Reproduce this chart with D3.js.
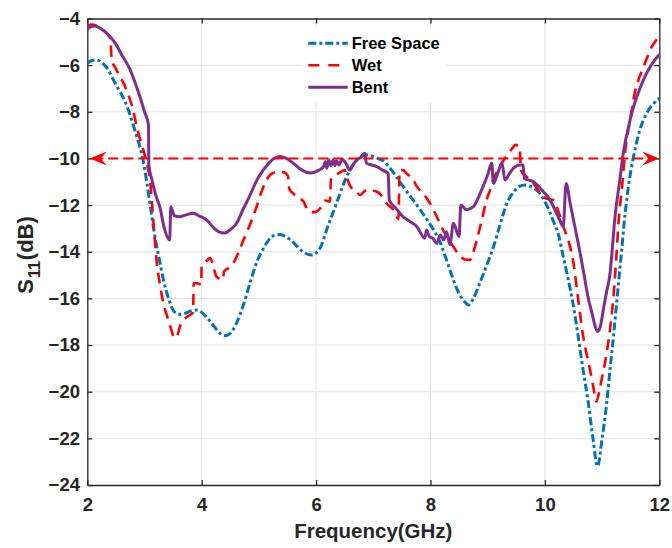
<!DOCTYPE html>
<html>
<head>
<meta charset="utf-8">
<script src="https://cdn.jsdelivr.net/npm/d3@7"></script>
<style>
  body { margin: 0; background: #fff; }
  svg { display: block; }
  text { font-family: "Liberation Sans", Arial, sans-serif; font-weight: bold; }
</style>
</head>
<body>
<div id="chart"></div>
<script>
// values: [frequency GHz, S11 dB]
var freeSpace = [[2.0,-5.92],[2.08,-5.8],[2.16,-5.78],[2.25,-5.88],[2.35,-6.15],[2.45,-6.6],[2.55,-7.05],[2.65,-7.5],
  [2.75,-8.15],[2.85,-8.95],[2.95,-9.8],[3.04,-11.0],[3.11,-12.2],[3.2,-13.6],[3.27,-14.45],[3.33,-15.2],[3.42,-16.0],
  [3.5,-16.5],[3.6,-16.68],[3.7,-16.65],[3.8,-16.55],[3.91,-16.5],[4.0,-16.6],[4.1,-16.85],[4.2,-17.15],[4.3,-17.45],
  [4.4,-17.6],[4.5,-17.5],[4.6,-17.1],[4.72,-16.35],[4.85,-15.3],[4.97,-14.4],[5.07,-13.9],[5.17,-13.5],[5.27,-13.3],
  [5.37,-13.26],[5.47,-13.35],[5.6,-13.6],[5.77,-14.0],[5.92,-14.14],[6.0,-14.05],[6.07,-13.84],[6.2,-12.95],[6.36,-11.9],
  [6.48,-11.1],[6.59,-10.5],[6.7,-10.1],[6.8,-9.9],[6.88,-9.85],[6.98,-9.9],[7.08,-10.0],[7.17,-10.1],[7.35,-10.6],
  [7.52,-11.2],[7.67,-11.7],[7.82,-12.2],[8.0,-12.85],[8.17,-13.6],[8.3,-14.5],[8.4,-15.2],[8.5,-15.8],[8.6,-16.15],
  [8.66,-16.28],[8.75,-16.0],[8.86,-15.35],[8.98,-14.6],[9.1,-13.8],[9.22,-12.8],[9.33,-11.95],[9.45,-11.45],[9.55,-11.2],
  [9.65,-11.14],[9.75,-11.2],[9.91,-11.5],[10.03,-12.0],[10.14,-12.64],[10.24,-13.3],[10.32,-14.2],[10.4,-15.1],
  [10.49,-16.2],[10.58,-17.6],[10.67,-19.1],[10.76,-20.5],[10.84,-22.0],[10.92,-23.2],[11.0,-22.0],[11.08,-20.5],
  [11.14,-19.0],[11.2,-17.6],[11.25,-16.3],[11.3,-15.0],[11.34,-14.0],[11.38,-12.9],[11.46,-11.2],[11.55,-9.92],
  [11.66,-8.78],[11.78,-8.06],[11.9,-7.65],[12.0,-7.42]];

var wet = [[2.0,-4.32],[2.08,-4.26],[2.15,-4.3],[2.25,-4.45],[2.33,-4.6],[2.4,-4.85],[2.43,-5.8],[2.5,-6.15],[2.57,-6.5],
  [2.63,-6.75],[2.69,-7.1],[2.75,-7.5],[2.8,-7.92],[2.86,-8.6],[2.92,-9.15],[2.98,-9.64],[3.05,-10.3],[3.1,-11.0],
  [3.14,-12.2],[3.21,-14.35],[3.27,-15.4],[3.33,-16.2],[3.4,-16.8],[3.45,-17.2],[3.53,-17.7],[3.58,-17.55],[3.62,-17.2],
  [3.68,-16.95],[3.74,-16.8],[3.8,-16.7],[3.85,-16.6],[3.86,-15.35],[3.92,-15.35],[3.99,-15.4],[4.0,-14.6],[4.08,-14.4],
  [4.15,-14.27],[4.2,-14.6],[4.26,-15.07],[4.37,-15.2],[4.39,-14.85],[4.47,-14.7],[4.55,-14.5],[4.64,-14.05],[4.73,-13.5],
  [4.85,-12.8],[4.96,-12.07],[5.05,-11.4],[5.14,-10.9],[5.2,-10.7],[5.28,-10.6],[5.37,-10.57],[5.45,-10.6],[5.51,-10.78],
  [5.53,-11.3],[5.6,-11.5],[5.7,-11.7],[5.78,-11.85],[5.85,-12.2],[5.92,-12.3],[5.98,-12.3],[6.07,-12.14],[6.16,-11.8],
  [6.24,-11.85],[6.26,-10.9],[6.33,-10.75],[6.42,-10.6],[6.5,-10.5],[6.55,-10.9],[6.6,-11.2],[6.68,-11.35],[6.77,-11.57],
  [6.85,-11.4],[6.94,-11.35],[7.03,-11.4],[7.11,-11.5],[7.23,-11.92],[7.35,-12.2],[7.44,-12.6],[7.46,-10.5],[7.52,-10.5],
  [7.58,-10.64],[7.7,-10.92],[7.76,-11.2],[7.87,-11.5],[7.96,-11.8],[8.05,-12.2],[8.14,-12.65],[8.22,-13.07],[8.31,-13.45],
  [8.4,-13.78],[8.52,-14.2],[8.6,-14.33],[8.69,-14.35],[8.75,-14.0],[8.81,-13.5],[8.9,-12.6],[8.98,-11.78],[9.05,-11.3],
  [9.1,-10.92],[9.21,-10.35],[9.33,-9.9],[9.45,-9.5],[9.48,-9.42],[9.56,-9.5],[9.58,-10.5],[9.68,-10.78],[9.8,-11.07],
  [9.97,-11.64],[10.07,-11.75],[10.15,-11.78],[10.24,-12.3],[10.32,-12.9],[10.42,-13.6],[10.5,-14.5],[10.58,-16.0],
  [10.67,-17.64],[10.73,-18.4],[10.79,-19.07],[10.84,-19.7],[10.9,-20.42],[10.95,-20.0],[10.99,-19.5],[11.08,-18.35],
  [11.14,-17.3],[11.2,-15.9],[11.25,-14.2],[11.29,-12.64],[11.35,-11.2],[11.4,-9.78],[11.49,-8.35],[11.57,-7.2],
  [11.64,-6.6],[11.72,-6.1],[11.8,-5.6],[11.87,-5.21],[11.94,-4.95],[12.0,-4.75]];

var bent = [[2.0,-4.46],[2.07,-4.35],[2.13,-4.32],[2.2,-4.38],[2.3,-4.55],[2.4,-4.78],[2.5,-5.1],[2.6,-5.55],[2.75,-6.2],
  [2.85,-6.85],[2.92,-7.35],[3.0,-8.0],[3.07,-8.56],[3.075,-10.25],[3.13,-10.92],[3.2,-11.6],[3.27,-12.1],[3.34,-12.92],
  [3.44,-13.5],[3.46,-12.07],[3.52,-12.45],[3.62,-12.5],[3.75,-12.4],[3.85,-12.35],[3.97,-12.48],[4.09,-12.64],[4.2,-12.95],
  [4.3,-13.15],[4.4,-13.2],[4.5,-13.05],[4.61,-12.78],[4.72,-12.2],[4.84,-11.6],[4.96,-10.95],[5.06,-10.55],[5.14,-10.3],
  [5.25,-10.02],[5.37,-9.92],[5.48,-10.0],[5.6,-10.2],[5.75,-10.5],[5.9,-10.62],[6.05,-10.5],[6.13,-10.35],[6.16,-10.14],
  [6.19,-10.42],[6.22,-10.07],[6.26,-10.3],[6.3,-10.07],[6.33,-10.3],[6.36,-10.1],[6.4,-10.28],[6.45,-10.05],[6.52,-10.2],
  [6.59,-10.5],[6.65,-10.25],[6.71,-10.07],[6.78,-9.95],[6.85,-9.78],[6.88,-10.2],[6.97,-10.28],[7.06,-10.35],[7.16,-10.5],
  [7.26,-10.64],[7.28,-11.78],[7.4,-12.15],[7.52,-12.5],[7.64,-12.7],[7.76,-12.92],[7.9,-13.42],[7.93,-13.07],[7.98,-13.35],
  [8.04,-13.42],[8.11,-13.64],[8.17,-13.28],[8.23,-13.5],[8.28,-13.14],[8.34,-13.7],[8.4,-12.78],[8.5,-13.35],[8.53,-12.0],
  [8.63,-12.2],[8.75,-12.07],[8.85,-11.6],[8.92,-11.2],[9.0,-10.7],[9.07,-10.2],[9.1,-11.07],[9.18,-10.6],[9.25,-10.2],
  [9.3,-10.92],[9.38,-10.65],[9.45,-10.42],[9.56,-10.28],[9.62,-10.28],[9.64,-10.85],[9.8,-11.0],[9.97,-11.42],
  [10.07,-11.7],[10.15,-12.07],[10.26,-12.64],[10.32,-12.92],[10.37,-11.07],[10.44,-11.9],[10.5,-12.64],[10.58,-13.6],
  [10.67,-14.78],[10.75,-15.9],[10.82,-16.6],[10.88,-17.2],[10.92,-17.42],[10.97,-17.2],[11.02,-16.5],[11.08,-15.7],
  [11.14,-14.9],[11.17,-14.1],[11.22,-12.64],[11.31,-10.92],[11.37,-9.78],[11.49,-8.35],[11.56,-7.7],[11.63,-7.2],
  [11.72,-6.65],[11.81,-6.2],[11.9,-5.85],[12.0,-5.54]];

var seriesNames = ["Free Space", "Wet", "Bent"];
var xTicks = [2, 4, 6, 8, 10, 12];
var yTicks = [-4, -6, -8, -10, -12, -14, -16, -18, -20, -22, -24];
var threshold = -10;

var width = 672, height = 548;
// plot box (window.top is reserved, so prefixed names)
var plotL = 87.3, plotR = 659.3, plotT = 18.5, plotB = 485;

var x = d3.scaleLinear().domain([2, 12]).range([plotL, plotR]);
var y = d3.scaleLinear().domain([-4, -24]).range([plotT, plotB]);

var svg = d3.select("#chart").append("svg")
    .attr("width", width)
    .attr("height", height);

svg.append("defs").append("clipPath").attr("id", "plotclip")
  .append("rect")
    .attr("x", plotL).attr("y", plotT)
    .attr("width", plotR - plotL).attr("height", plotB - plotT);

// grid
var grid = svg.append("g").attr("stroke", "#e3e3e3").attr("stroke-width", 1);
grid.selectAll(".gx").data(xTicks.slice(1, -1)).enter().append("line")
    .attr("x1", function(d) { return x(d); }).attr("x2", function(d) { return x(d); })
    .attr("y1", plotT).attr("y2", plotB);
grid.selectAll(".gy").data(yTicks.slice(1, -1)).enter().append("line")
    .attr("x1", plotL).attr("x2", plotR)
    .attr("y1", function(d) { return y(d); }).attr("y2", function(d) { return y(d); });

// legend background sits above the grid
svg.append("rect")
    .attr("x", 303).attr("y", 28).attr("width", 144).attr("height", 75)
    .attr("fill", "#fff");

// axes, MATLAB style: ticks inward on all four sides
var axisColor = "#262626";
var gBottom = svg.append("g").attr("transform", "translate(0," + plotB + ")")
    .call(d3.axisBottom(x).tickValues(xTicks).tickSizeInner(-5).tickSizeOuter(0).tickPadding(13));
var gTop = svg.append("g").attr("transform", "translate(0," + plotT + ")")
    .call(d3.axisTop(x).tickValues(xTicks).tickSizeInner(-5).tickSizeOuter(0).tickFormat(""));
var gLeft = svg.append("g").attr("transform", "translate(" + plotL + ",0)")
    .call(d3.axisLeft(y).tickValues(yTicks).tickSizeInner(-5).tickSizeOuter(0).tickPadding(8));
var gRight = svg.append("g").attr("transform", "translate(" + plotR + ",0)")
    .call(d3.axisRight(y).tickValues(yTicks).tickSizeInner(-5).tickSizeOuter(0).tickFormat(""));

[gBottom, gTop, gLeft, gRight].forEach(function(g) {
  g.select(".domain").attr("stroke", axisColor).attr("stroke-width", 1.3);
  g.selectAll(".tick line").attr("stroke", axisColor).attr("stroke-width", 1.3);
  g.selectAll(".tick text")
    .attr("fill", axisColor)
    .style("font-size", "18.5px")
    .style("font-family", "'Liberation Sans', Arial, sans-serif")
    .style("font-weight", "bold");
});
gLeft.selectAll(".tick text").attr("x", 80 - plotL);

// axis labels
svg.append("text")
    .attr("x", (plotL + plotR) / 2).attr("y", 538)
    .attr("text-anchor", "middle")
    .attr("fill", axisColor)
    .style("font-size", "20.5px")
    .text("Frequency(GHz)");

var ylab = svg.append("text")
    .attr("transform", "translate(33," + 255 + ") rotate(-90)")
    .attr("text-anchor", "middle")
    .attr("fill", axisColor)
    .style("font-size", "22px");
ylab.append("tspan").text("S");
ylab.append("tspan").attr("dy", 7).attr("dx", 1).style("font-size", "16px").text("11");
ylab.append("tspan").attr("dy", -7).attr("dx", 1).text("(dB)");

// curves
var line = d3.line()
    .curve(d3.curveMonotoneX)
    .x(function(d) { return x(d[0]); })
    .y(function(d) { return y(d[1]); });

var styles = [
  { data: freeSpace, color: "#0072BD", width: 3, dash: "8,3,3,3" },
  { data: wet, color: "#FF0000", width: 2.6, dash: "11,7" },
  { data: bent, color: "#7E2F8E", width: 3, dash: null }
];

var curves = svg.append("g").attr("clip-path", "url(#plotclip)");
styles.forEach(function(s) {
  curves.append("path")
      .datum(s.data)
      .attr("d", line)
      .attr("fill", "none")
      .attr("stroke", s.color)
      .attr("stroke-width", s.width)
      .attr("stroke-linejoin", "round")
      .attr("stroke-dasharray", s.dash);
});

// -10 dB reference with arrowheads on both ends
var yT = y(threshold);
svg.append("line")
    .attr("x1", x(2) + 6).attr("x2", x(12) - 6)
    .attr("y1", yT).attr("y2", yT)
    .attr("stroke", "#FF0000").attr("stroke-width", 2)
    .attr("stroke-dasharray", "10,5");

function arrowHead(tipX, dir) {
  var back = tipX + dir * 17;
  var notch = tipX + dir * 11;
  return "M" + tipX + "," + yT + "L" + back + "," + (yT - 7) +
         "L" + notch + "," + yT + "L" + back + "," + (yT + 7) + "Z";
}
svg.append("path").attr("d", arrowHead(x(2) + 2.5, 1)).attr("fill", "#FF0000");
svg.append("path").attr("d", arrowHead(x(12), -1)).attr("fill", "#FF0000");

// legend
var legend = svg.append("g");
var rowY = [43.3, 65.2, 87.3];
styles.forEach(function(s, i) {
  legend.append("line")
      .attr("x1", 308.3).attr("x2", 347.7)
      .attr("y1", rowY[i]).attr("y2", rowY[i])
      .attr("stroke", s.color)
      .attr("stroke-width", s.width)
      .attr("stroke-dasharray", i == 1 ? "11,9" : s.dash);
  legend.append("text")
      .attr("x", 351.7).attr("y", rowY[i] + 5.8)
      .attr("fill", "#000")
      .style("font-size", "16.5px")
      .text(seriesNames[i]);
});
</script>
</body>
</html>
